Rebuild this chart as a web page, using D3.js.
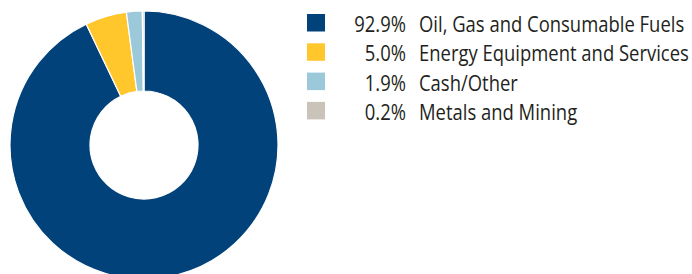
<!DOCTYPE html>
<html><head><meta charset="utf-8">
<script src="https://cdn.jsdelivr.net/npm/d3@7"></script>
<style>html,body{margin:0;padding:0;background:#fff;}svg{display:block;}</style>
</head><body>
<svg id="c" width="692" height="274"></svg>
<script>
const categories = ["Oil, Gas and Consumable Fuels", "Energy Equipment and Services", "Cash/Other", "Metals and Mining"];
const values = [92.9, 5.0, 1.9, 0.2];
const valueLabels = ["92.9%", "5.0%", "1.9%", "0.2%"];
const colors = ["#02427A", "#FFC72C", "#9BC9D9", "#C9C3B9"];

const svg = d3.select("#c");
const cx = 144, cy = 145, rOut = 134, rIn = 54;

const pie = d3.pie().sort(null).value(d => d)(values);
const arc = d3.arc().innerRadius(rIn).outerRadius(rOut);

svg.append("g").attr("transform", `translate(${cx},${cy})`)
  .selectAll("path").data(pie).join("path")
  .attr("d", arc)
  .attr("fill", (d, i) => colors[i])
  .attr("stroke", "#fff").attr("stroke-width", 1.2);

const font = "'Open Sans', sans-serif";
const fs = 22.5;
const rowY = d3.scaleLinear().domain([0, 1]).range([32, 61.3]);

// measure scale factor for condensed look
let natW = 0;
categories.forEach(c => {
  const probe = svg.append("text").attr("font-family", font).attr("font-size", fs).text(c);
  natW = Math.max(natW, probe.node().getComputedTextLength());
  probe.remove();
});
const sx = 270 / natW;

const leg = svg.append("g");
categories.forEach((c, i) => {
  const y = rowY(i);
  leg.append("rect").attr("x", 307).attr("y", y - 18).attr("width", 18).attr("height", 17.5)
    .attr("fill", colors[i]);
  leg.append("text").attr("transform", `translate(406,${y}) scale(${sx},1)`)
    .attr("text-anchor", "end").attr("font-family", font).attr("font-size", fs)
    .attr("fill", "#231F20").text(valueLabels[i]);
  leg.append("text").attr("transform", `translate(419,${y}) scale(${sx},1)`)
    .attr("text-anchor", "start").attr("font-family", font).attr("font-size", fs)
    .attr("fill", "#231F20").text(c);
});
</script>
</body></html>
